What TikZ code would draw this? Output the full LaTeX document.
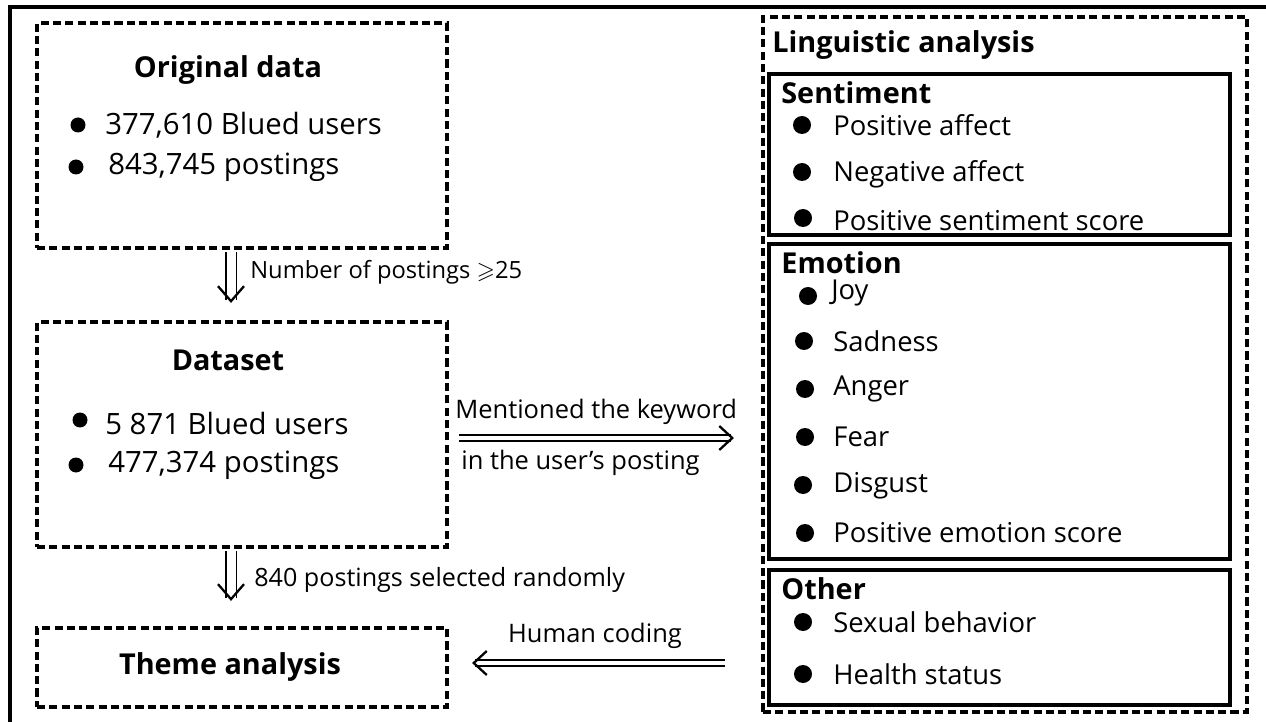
\documentclass[tikz,border=0pt]{standalone}
\usepackage{fontspec}
\usepackage{amssymb}
\setmainfont{Open Sans}
\usetikzlibrary{arrows.meta}

\tikzset{
    dbox/.style={draw, line width=2.4pt, dash pattern=on 4.6pt off 2.4pt, inner sep=0pt},
    sbox/.style={draw, line width=2.4pt, inner sep=0pt, minimum width=9.22cm},
    ttl/.style={font=\bfseries\fontsize{16.4}{19}\selectfont, inner sep=0pt},
    txt/.style={font=\fontsize{15.6}{18}\selectfont, anchor=west, inner sep=0pt},
    ltxt/.style={font=\fontsize{16.7}{19}\selectfont, anchor=west, inner sep=0pt},
    lbl/.style={font=\fontsize{13.5}{16}\selectfont, anchor=west, inner sep=0pt},
    dbl/.style={double, line width=1.1pt, double distance=0.18cm, -{Straight Barb[length=0.3cm, width=0.52cm, line width=1.3pt]}},
    dblh/.style={double, line width=1.1pt, double distance=0.09cm, -{Straight Barb[length=0.26cm, width=0.48cm, line width=1.3pt]}},
    dot/.style={circle, fill, inner sep=0pt, minimum size=#1}
}

\begin{document}
\begin{tikzpicture}[x=0.02cm, y=-0.02cm]

    \useasboundingbox (0,0) rectangle (1266,722);
    \draw[line width=2pt] (10,722) -- (10,7) -- (1266,7);

    % left column
    \node[dbox, minimum width=8.2cm, minimum height=4.5cm] (orig) at (242,135.5) {};
    \node[dbox, minimum width=8.2cm, minimum height=4.5cm] (data) at (242,434.5) {};
    \node[dbox, minimum width=8.2cm, minimum height=1.58cm] (theme) at (242,667.5) {};

    \node[ttl] (origT) at (228,70) {Original data};
    \node[dot=0.3cm] (o1) at (78,125) {};
    \node[ltxt] (o1t) at (105,125) {377,610 Blued users};
    \node[dot=0.3cm] (o2) at (76,167) {};
    \node[ltxt] (o2t) at (108,167) {843,745 postings};

    \node[ttl] (dataT) at (228,360) {Dataset};
    \node[dot=0.3cm] (d1) at (80,420) {};
    \node[ltxt] (d1t) at (105,423) {5 871 Blued users};
    \node[dot=0.3cm] (d2) at (76,465) {};
    \node[ltxt] (d2t) at (108,465) {477,374 postings};

    \node[ttl] (themeT) at (230,667) {Theme analysis};

    % right column
    \node[dbox, minimum width=9.68cm, minimum height=13.9cm] (ling) at (1005,364.5) {};
    \node[ttl, anchor=west] (lingT) at (772,45) {Linguistic analysis};

    \node[sbox, minimum height=3.22cm] (senti) at (999.5,154.5) {};
    \node[ttl, anchor=west] (sentiT) at (781,93) {Sentiment};
    \node[dot=0.36cm] (s1) at (802,125) {};
    \node[txt] (s1t) at (833,125) {Positive affect};
    \node[dot=0.36cm] (s2) at (802,172) {};
    \node[txt] (s2t) at (833,174) {Negative affect};
    \node[dot=0.36cm] (s3) at (803,218) {};
    \node[txt] (s3t) at (833,221) {Positive sentiment score};

    \node[sbox, minimum height=6.3cm] (emo) at (999.5,401.5) {};
    \node[ttl, anchor=west] (emoT) at (781,263) {Emotion};
    \node[dot=0.36cm] (e1) at (808,296) {};
    \node[txt] (e1t) at (831,293) {Joy};
    \node[dot=0.36cm] (e2) at (804,341) {};
    \node[txt] (e2t) at (833,341) {Sadness};
    \node[dot=0.36cm] (e3) at (805,389) {};
    \node[txt] (e3t) at (833,389) {Anger};
    \node[dot=0.36cm] (e4) at (805,437) {};
    \node[txt] (e4t) at (833,437) {Fear};
    \node[dot=0.36cm] (e5) at (803,485) {};
    \node[txt] (e5t) at (833,486) {Disgust};
    \node[dot=0.36cm] (e6) at (805,533) {};
    \node[txt] (e6t) at (833,533) {Positive emotion score};

    \node[sbox, minimum height=2.7cm] (other) at (999.5,637.5) {};
    \node[ttl, anchor=west] (otherT) at (781,589) {Other};
    \node[dot=0.36cm] (x1) at (803,622) {};
    \node[txt] (x1t) at (833,622) {Sexual behavior};
    \node[dot=0.36cm] (x2) at (803,674) {};
    \node[txt] (x2t) at (833,674) {Health status};

    % arrows
    \draw[dbl, shorten <=0.04cm, shorten >=0.34cm] ([xshift=-0.22cm]orig.south) -- ([xshift=-0.22cm]data.north);
    \draw[dbl, shorten <=0.04cm, shorten >=0.5cm] ([xshift=-0.22cm]data.south) -- ([xshift=-0.22cm]theme.north);
    \draw[dblh, shorten <=0.2cm, shorten >=0.54cm] ([yshift=-0.07cm]data.east) -- ([yshift=-0.07cm]ling.west |- data.east);
    \draw[dblh, shorten <=0.72cm, shorten >=0.46cm] ([yshift=0.09cm]ling.west |- theme.east) -- ([yshift=0.09cm]theme.east);

    \node[lbl] (lab1) at (250,272) {Number of postings $\geqslant$25};
    \node[lbl, font=\fontsize{14.3}{16}\selectfont] (lab2) at (254,580) {840 postings selected randomly};
    \node[lbl, font=\fontsize{14.5}{17}\selectfont] (lab3) at (455,412) {Mentioned the keyword};
    \node[lbl, font=\fontsize{14.5}{17}\selectfont] (lab4) at (461,463) {in the user's posting};
    \node[lbl, anchor=center, font=\fontsize{14.5}{17}\selectfont] (lab5) at (595,636) {Human coding};

\end{tikzpicture}
\end{document}
